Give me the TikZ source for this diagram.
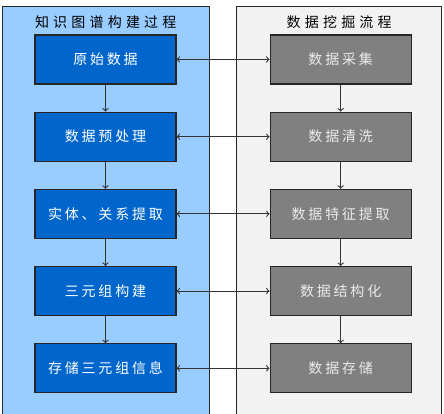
\documentclass[tikz,border=0pt]{standalone}
\usepackage{fontspec}
\usepackage{tikz}
\usetikzlibrary{positioning,fit,calc,backgrounds}
\newfontfamily\cjk[LetterSpace=20]{Noto Sans CJK SC}
\newfontfamily\cjktitle[LetterSpace=30]{Noto Sans CJK SC}
\definecolor{kgblue}{RGB}{0,102,204}
\definecolor{kglight}{RGB}{153,204,255}
\definecolor{dmgray}{RGB}{128,128,128}
\definecolor{dmlight}{RGB}{242,242,242}

\begin{document}
\begin{tikzpicture}[
				node distance=20.25pt and 69.75pt,
				block/.style={rectangle, draw=black!85, line width=0.9pt, minimum width=105.75pt, minimum height=36.75pt, text=white, font=\cjk\fontsize{10.5}{12}\selectfont},
				kgblock/.style={block, fill=kgblue},
				dmblock/.style={block, fill=dmgray, text=white!92!black},
				panel/.style={rectangle, draw=black!85, line width=0.9pt, inner sep=0pt},
				title/.style={rectangle, font=\cjktitle\fontsize{10.5}{12}\selectfont}
			]
			\useasboundingbox (0,0) rectangle (333pt,-310.5pt);
			\node[kgblock] (raw) at (79.1pt,-44.6pt) {原始数据};
			\node[kgblock] (preproc) [below=of raw] {数据预处理};
			\node[kgblock] (extract) [below=of preproc] {实体、关系提取};
			\node[kgblock] (triple) [below=of extract] {三元组构建};
			\node[kgblock] (store) [below=of triple] {存储三元组信息};
			\node[dmblock] (collect) [right=of raw] {数据采集};
			\node[dmblock] (clean) [below=of collect] {数据清洗};
			\node[dmblock] (feature) [below=of clean] {数据特征提取};
			\node[dmblock] (struct) [below=of feature] {数据结构化};
			\node[dmblock] (dstore) [below=of struct] {数据存储};
			\coordinate (kgnw) at ($(raw.north west)+(-24pt,21pt)$);
			\coordinate (kgse) at ($(store.south east)+(24.4pt,-17.25pt)$);
			\coordinate (dmnw) at ($(collect.north west)+(-24.75pt,21pt)$);
			\coordinate (dmse) at ($(dstore.south east)+(22.5pt,-17.25pt)$);
			\begin{scope}[on background layer]
			\node[panel, fill=kglight, fit=(kgnw)(kgse)] (kgpanel) {};
			\node[panel, fill=dmlight, fit=(dmnw)(dmse)] (dmpanel) {};
			\end{scope}
			\node[title] (kgtitle) [below=4pt of kgpanel.north] {知识图谱构建过程};
			\node[title] (dmtitle) [below=4pt of dmpanel.north] {数据挖掘流程};
			\begin{scope}[line width=0.8pt, draw=black!80, ->]
			\draw (raw.south) -- (preproc.north);
			\draw (preproc.south) -- (extract.north);
			\draw (extract.south) -- (triple.north);
			\draw (triple.south) -- (store.north);
			\draw (collect.south) -- (clean.north);
			\draw (clean.south) -- (feature.north);
			\draw (feature.south) -- (struct.north);
			\draw (struct.south) -- (dstore.north);
			\draw[<->] (raw.east) -- (collect.west);
			\draw[<->] (preproc.east) -- (clean.west);
			\draw[<->] (extract.east) -- (feature.west);
			\draw[<->] (triple.east) -- (struct.west);
			\draw[<->] (store.east) -- (dstore.west);
			\end{scope}
			\end{tikzpicture}
\end{document}
